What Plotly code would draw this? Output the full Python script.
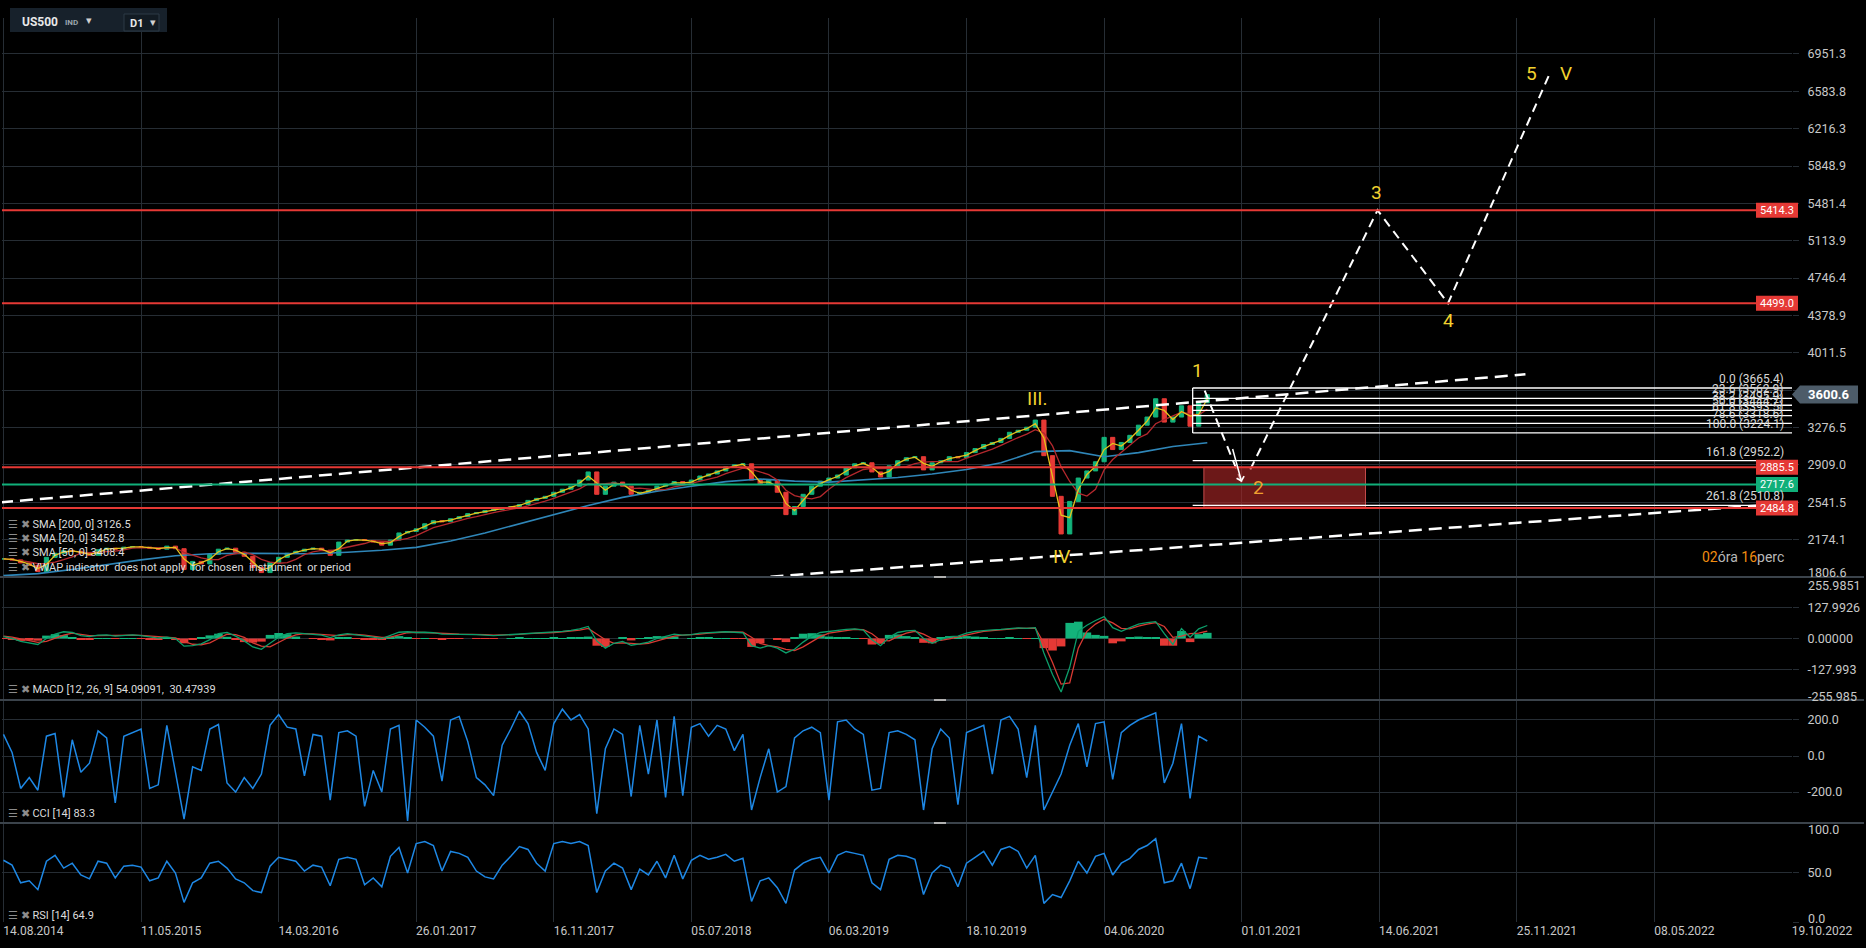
import numpy as np
import pandas as pd
import plotly.graph_objects as go
from plotly.subplots import make_subplots

# ---- values (one sample ~ every 11 daily bars) ----
date_labels = ["14.08.2014", "11.05.2015", "14.03.2016", "26.01.2017", "16.11.2017",
               "05.07.2018", "06.03.2019", "18.10.2019", "04.06.2020", "01.01.2021",
               "14.06.2021", "25.11.2021", "08.05.2022", "19.10.2022"]
bars_per_label = 16

close = [1985, 1975, 1945, 1920, 1860, 2000, 2040, 2065, 2060, 2040,
         2020, 2075, 2090, 2080, 2100, 2105, 2100, 2090, 2080, 2110,
         2085, 1880, 1960, 1935, 2030, 2080, 2090, 2050, 2010, 1900,
         1850, 1950, 2000, 2040, 2060, 2080, 2090, 2070, 2020, 2150,
         2170, 2175, 2165, 2150, 2120, 2170, 2240, 2255, 2280, 2330,
         2360, 2350, 2380, 2400, 2430, 2440, 2460, 2470, 2480, 2500,
         2520, 2560, 2580, 2600, 2640, 2670, 2700, 2760, 2840, 2620,
         2700, 2740, 2700, 2620, 2640, 2660, 2700, 2720, 2745, 2720,
         2760, 2800, 2820, 2850, 2890, 2910, 2920, 2760, 2720, 2760,
         2640, 2420, 2500, 2620, 2700, 2750, 2780, 2810, 2880, 2920,
         2930, 2840, 2790, 2900, 2950, 2980, 2990, 2860, 2930, 2950,
         2990, 2980, 3030, 3070, 3110, 3130, 3170, 3230, 3250, 3280,
         3350, 3000, 2600, 2230, 2550, 2780, 2850, 2940, 3180, 3060,
         3130, 3200, 3300, 3380, 3560, 3330, 3380, 3490, 3290, 3520,
         3600.6]

sma200_step = 4
sma200 = [1820, 1840, 1880, 1930, 1975, 2015, 2035, 2040, 2040, 2035,
          2050, 2070, 2098, 2160, 2240, 2330, 2420, 2510, 2590, 2650,
          2700, 2745, 2770, 2750, 2740, 2760, 2785, 2820, 2864, 2930,
          3040, 3050, 2990, 3030, 3090, 3126.5]

macd = [8, 0, -12, -18, -25, 0, 18, 28, 25, 12,
        8, 14, 15, 10, 14, 15, 12, 6, 2, 6,
        0, -32, -30, -22, -5, 20, 25, 10, -10, -35,
        -45, -20, 5, 20, 23, 20, 18, 14, 4, 15,
        20, 16, 10, 6, 0, 14, 26, 28, 25, 26,
        24, 18, 18, 17, 18, 16, 14, 12, 14, 16,
        20, 22, 22, 24, 28, 30, 34, 40, 50, -10,
        -40, -20, -12, -28, -22, -15, 0, 8, 18, 14,
        16, 22, 25, 27, 28, 26, 24, -30, -40, -30,
        -40, -60, -45, -15, 10, 25, 30, 33, 38, 40,
        35, -5, -30, 5, 25, 32, 34, 0, -20, -5,
        8, 10, 22, 30, 34, 36, 38, 42, 44, 42,
        45, -60, -150, -223, -120, 30, 55, 75, 91, 45,
        30, 45, 60, 66, 70, 20, -25, 41, 5, 40,
        54.09]
signal = [10, 6, -2, -10, -16, -12, 0, 14, 22, 18,
          12, 12, 13, 12, 12, 14, 13, 10, 6, 5,
          3, -12, -24, -26, -18, 0, 18, 16, 5, -18,
          -32, -35, -18, 2, 15, 20, 19, 17, 12, 12,
          16, 17, 14, 10, 5, 6, 16, 24, 26, 25,
          25, 22, 20, 18, 18, 17, 16, 14, 14, 15,
          17, 20, 21, 22, 25, 28, 31, 35, 42, 20,
          -5, -20, -18, -20, -23, -20, -10, 0, 10, 14,
          15, 18, 22, 25, 27, 27, 26, 5, -20, -30,
          -35, -45, -50, -35, -12, 8, 22, 28, 34, 38,
          37, 20, -8, -10, 8, 22, 30, 18, 0, -8,
          -2, 5, 12, 22, 30, 34, 36, 39, 42, 43,
          43, -20, -100, -190, -185, -40, 30, 60, 80, 65,
          42, 40, 52, 60, 66, 50, 5, 10, 20, 22,
          30.48]

cci = [120, 20, -180, -120, -190, 110, 125, -230, 90, -90,
       -40, 140, 100, -260, 110, 130, 150, -180, -160, 170,
       -80, -350, -60, -80, 150, 175, -150, -200, -120, -180,
       -100, 170, 230, 160, 150, -110, 120, 110, -245, 130,
       140, 110, -280, -80, -200, 150, 170, -360, 200, 160,
       110, -140, 200, 220, 80, -120, -160, -220, 60, 150,
       250, 180, 20, -80, 180, 260, 200, 230, 150, -320,
       40, 150, 120, -225, 170, -100, 200, -230, 220, -220,
       160, 180, 110, 170, 150, 30, 120, -300, -120, 40,
       -200, -170, 100, 140, 160, 130, -245, 190, 200, 150,
       120, -190, -180, 130, 140, 120, 90, -300, 40, 150,
       100, -270, 130, 150, 170, -100, 200, 220, 150, -120,
       170, -300, -200, -100, 60, 180, -60, 180, 190, -130,
       130, 170, 200, 220, 240, -150, -40, 180, -235, 110,
       83.3]

rsi = [63, 58, 40, 42, 33, 62, 68, 55, 60, 48,
       44, 62, 60, 45, 57, 58, 56, 42, 45, 62,
       50, 20, 40, 45, 60, 62, 55, 44, 40, 32,
       30, 57, 66, 64, 62, 52, 58, 56, 37, 64,
       66, 64, 38, 45, 36, 67, 76, 50, 80, 82,
       78, 52, 72, 70, 66, 52, 46, 44, 58, 67,
       77, 74, 60, 52, 80, 82, 80, 82, 78, 30,
       52, 60, 55, 33, 54, 48, 62, 45, 68, 44,
       63, 68, 64, 66, 69, 62, 65, 21, 42, 45,
       35, 19, 53, 60, 64, 66, 50, 68, 72, 70,
       68, 40, 33, 64, 68, 67, 64, 28, 50, 58,
       55, 36, 60, 66, 72, 58, 74, 77, 72, 55,
       68, 19, 28, 25, 42, 62, 50, 67, 70, 48,
       60, 65, 74, 78, 85, 40, 42, 60, 34, 66,
       64.9]

# drawings on the price pane (bar index, price)
trend_upper_idx = [-0.4, 177.0]
trend_upper_val = [2541, 3800]
trend_lower_idx = [89.2, 208.0]
trend_lower_val = [1810, 2533]
wave_down_idx = [139.7, 144.0]
wave_down_val = [3640, 2740]
wave_up_idx = [145.0, 159.8, 168.0, 179.7]
wave_up_val = [2864, 5414.3, 4499.0, 6735]

red_levels = [5414.3, 4499.0, 2885.5, 2484.8]
green_levels = [2717.6]
fib_pct = ["0.0", "23.6", "38.2", "50.0", "61.8", "78.6", "100.0", "161.8", "261.8"]
fib_val = [3665.4, 3562.9, 3495.9, 3444.7, 3393.5, 3318.6, 3224.1, 2952.2, 2510.8]
fib_start_idx = 138.3
zone_idx = [139.6, 158.4]
zone_val = [2484.8, 2885.5]
last_price = 3600.6

price_ticks = [2174.1, 2541.5, 2909.0, 3276.5, 3643.9, 4011.5, 4378.9,
               4746.4, 5113.9, 5481.4, 5848.9, 6216.3, 6583.8, 6951.3]
macd_ticks = [127.9926, 0.0, -127.993]
macd_tick_text = ["127.9926", "0.00000", "-127.993"]
cci_ticks = [200.0, 0.0, -200.0]

# ---- page geometry ----
W, H = 1866, 948
ML, MR, MT, MB = 2, 74, 18, 26
PW, PH = W - ML - MR, H - MT - MB


def px_x(x):
    return (x - ML) / PW


def px_y(y):
    return (H - MB - y) / PH


GRID = "#262d34"
TXT = "#c8c8c8"
RED = "#e53935"
GREEN = "#13b37b"
BLUE = "#1e88e5"
YELLOW = "#f2d22e"
FONT = "Roboto"

idx = np.arange(len(close))
open_ = [close[0]] + close[:-1]
high = np.maximum(open_, close)
low = np.minimum(open_, close)
s = pd.Series(close, dtype=float)
sma20 = s.rolling(2, min_periods=1).mean()
sma50 = s.rolling(5, min_periods=1).mean()
sma200_idx = np.arange(0, len(close), sma200_step)
hist = np.array(macd) - np.array(signal)

fig = make_subplots(rows=4, cols=1, shared_xaxes=True, vertical_spacing=0)

fig.add_trace(go.Scatter(x=sma200_idx, y=sma200, mode="lines",
                         line=dict(color="#2f86b8", width=1.6)), row=1, col=1)
fig.add_trace(go.Candlestick(x=idx, open=open_, high=high, low=low, close=close,
                             increasing=dict(line=dict(color=GREEN, width=1), fillcolor=GREEN),
                             decreasing=dict(line=dict(color=RED, width=1), fillcolor=RED),
                             whiskerwidth=0), row=1, col=1)
fig.add_trace(go.Scatter(x=idx, y=sma50, mode="lines",
                         line=dict(color="#b3282d", width=1.3)), row=1, col=1)
fig.add_trace(go.Scatter(x=idx, y=sma20, mode="lines",
                         line=dict(color="#e6c21c", width=1.3)), row=1, col=1)

for xs, ys in [(trend_upper_idx, trend_upper_val), (trend_lower_idx, trend_lower_val)]:
    fig.add_trace(go.Scatter(x=xs, y=ys, mode="lines",
                             line=dict(color="white", width=2.5, dash="13px,7px")), row=1, col=1)
for xs, ys in [(wave_down_idx, wave_down_val), (wave_up_idx, wave_up_val)]:
    fig.add_trace(go.Scatter(x=xs, y=ys, mode="lines",
                             line=dict(color="white", width=2, dash="9px,6px")), row=1, col=1)

# MACD pane
fig.add_trace(go.Bar(x=idx, y=hist, width=1.0,
                     marker=dict(color=[GREEN if v >= 0 else RED for v in hist], line_width=0)),
              row=2, col=1)
fig.add_trace(go.Scatter(x=idx, y=signal, mode="lines", line=dict(color="#d93a33", width=1.3)), row=2, col=1)
fig.add_trace(go.Scatter(x=idx, y=macd, mode="lines", line=dict(color="#0c9e6a", width=1.3)), row=2, col=1)

fig.add_trace(go.Scatter(x=idx, y=cci, mode="lines", line=dict(color=BLUE, width=1.5)), row=3, col=1)
fig.add_trace(go.Scatter(x=idx, y=rsi, mode="lines", line=dict(color=BLUE, width=1.5)), row=4, col=1)

grid_idx = [k * bars_per_label for k in range(len(date_labels))]
fig.update_xaxes(range=[-0.17, grid_idx[-1]], tickvals=grid_idx, showgrid=True, gridcolor=GRID,
                 gridwidth=1, zeroline=False, showticklabels=False, showline=False,
                 rangeslider_visible=False)
fig.update_xaxes(row=4, col=1, showticklabels=True, ticktext=date_labels, ticklabelshift=30,
                 tickfont=dict(size=12, color=TXT, family=FONT))

yaxis_common = dict(side="right", showgrid=True, gridcolor=GRID, zeroline=False, ticks="outside",
                    ticklen=6, tickcolor=GRID, tickfont=dict(size=12.5, color=TXT, family=FONT),
                    ticklabelstandoff=6, fixedrange=True)
fig.update_layout(
    yaxis=dict(domain=[px_y(577), 1], range=[1806.6, 7305], tickvals=price_ticks,
               ticktext=[f"{v:.1f}" for v in price_ticks], **yaxis_common),
    yaxis2=dict(domain=[px_y(700), px_y(577)], range=[-256, 256], tickvals=macd_ticks,
                ticktext=macd_tick_text, **yaxis_common),
    yaxis3=dict(domain=[px_y(823), px_y(700)], range=[-372, 311], tickvals=cci_ticks,
                ticktext=[f"{v:.1f}" for v in cci_ticks], **yaxis_common),
    yaxis4=dict(domain=[0, px_y(823)], range=[0, 101], tickvals=[0, 50],
                ticktext=["", "50.0"], **yaxis_common),
)

shapes = []
# target zone
shapes.append(dict(type="rect", xref="x", yref="y", x0=zone_idx[0], x1=zone_idx[1],
                   y0=zone_val[0], y1=zone_val[1], fillcolor="rgba(175,38,38,0.62)",
                   line=dict(color="rgba(230,90,90,0.8)", width=1), layer="above"))
# fibonacci levels
for v in fib_val:
    shapes.append(dict(type="line", xref="x", yref="y", x0=fib_start_idx, x1=grid_idx[-1],
                       y0=v, y1=v, line=dict(color="white", width=1.3), layer="above"))
shapes.append(dict(type="line", xref="x", yref="y", x0=fib_start_idx, x1=fib_start_idx,
                   y0=fib_val[6], y1=fib_val[0], line=dict(color="white", width=1.3), layer="above"))
# horizontal levels
for v in red_levels:
    shapes.append(dict(type="line", xref="paper", yref="y", x0=0, x1=1, y0=v, y1=v,
                       line=dict(color=RED, width=2), layer="above"))
for v in green_levels:
    shapes.append(dict(type="line", xref="paper", yref="y", x0=0, x1=1, y0=v, y1=v,
                       line=dict(color="#10b07a", width=2), layer="above"))

annotations = []


def note(x, y, text, size=11, color=TXT, anchor="left", xref="paper", yref="paper", bold=False,
         yanchor="middle"):
    if bold:
        text = f"<b>{text}</b>"
    annotations.append(dict(x=x, y=y, xref=xref, yref=yref, text=text, showarrow=False,
                            xanchor=anchor, yanchor=yanchor,
                            font=dict(size=size, color=color, family=FONT)))


# level tags on the right edge
pp = 9.836  # price units per pixel in the price pane
for v, col in [(v, RED) for v in red_levels] + [(v, "#10b07a") for v in green_levels]:
    shapes.append(dict(type="rect", xref="paper", yref="y", x0=px_x(1756), x1=px_x(1798),
                       y0=v - 7.5 * pp, y1=v + 7.5 * pp, fillcolor=col, line_width=0, layer="above"))
    note(px_x(1777), v, f"{v:.1f}", size=11, color="white", anchor="center", yref="y")

# last price tag
tip, bl, br = px_x(1792), px_x(1800), px_x(1858)
hh = 9 * pp
shapes.append(dict(type="path", xref="paper", yref="y", fillcolor="#4d5c69", line_width=0, layer="above",
                   path=f"M {tip},{last_price} L {bl},{last_price + hh} L {br},{last_price + hh} "
                        f"L {br},{last_price - hh} L {bl},{last_price - hh} Z"))
note(px_x(1829), last_price, f"{last_price:.1f}", size=13, color="white", anchor="center",
     yref="y", bold=True)

# fibonacci labels
for p, v in zip(fib_pct, fib_val):
    note(207.3, v, f"{p} ({v})", size=12, color="#d8d8d8", anchor="right", xref="x", yref="y",
         yanchor="bottom")

# wave labels
wave_labels = [("III.", 120.3, 3561, YELLOW), ("IV.", 123.2, 2009, YELLOW), ("1", 138.9, 3837, YELLOW),
               ("2", 146.0, 2687, "#f0a030"), ("3", 159.7, 5586, YELLOW), ("4", 168.0, 4328, YELLOW),
               ("5", 177.7, 6755, YELLOW), ("V", 181.7, 6755, YELLOW)]
for t, x, y, c in wave_labels:
    note(x, y, t, size=19, color=c, anchor="center", xref="x", yref="y")

annotations.append(dict(x=wave_down_idx[1], y=wave_down_val[1], ax=wave_down_idx[0] + 3.2,
                        ay=wave_down_val[1] + 340, xref="x", yref="y", axref="x", ayref="y",
                        text="", showarrow=True, arrowhead=4, arrowsize=1, arrowwidth=1.5,
                        arrowcolor="white"))

# edge tick labels
note(px_x(1806), px_y(573), "1806.6", size=12.5)
note(px_x(1806), px_y(585), "255.9851", size=12.5)
note(px_x(1806), px_y(696), "-255.985", size=12.5)
note(px_x(1806), px_y(829), "100.0", size=12.5)
note(px_x(1806), px_y(918), "0.0", size=12.5)

# countdown
note(px_x(1786), px_y(557), "<span style='color:#f08c10'>02</span>óra "
                            "<span style='color:#f08c10'>16</span>perc", size=14, color="#b8b8b8",
     anchor="right")

# indicator legends
icon = "<span style='color:#8c8c8c'>☰ ✖</span> "
for y, t in [(524, "SMA [200, 0] 3126.5"), (538, "SMA [20, 0] 3452.8"), (552, "SMA [50, 0] 3408.4"),
             (567, "VWAP indicator  does not apply  for chosen  instrument  or period"),
             (689, "MACD [12, 26, 9] 54.09091,  30.47939"), (813, "CCI [14] 83.3"),
             (915, "RSI [14] 64.9")]:
    note(px_x(6), px_y(y), icon + t, size=11, color="#dcdcdc")

# pane separators and handles
for y in [577, 700, 823]:
    shapes.append(dict(type="line", xref="paper", yref="paper", x0=px_x(0), x1=px_x(1864),
                       y0=px_y(y), y1=px_y(y), line=dict(color="#3b434b", width=2), layer="above"))
    shapes.append(dict(type="line", xref="paper", yref="paper", x0=px_x(934), x1=px_x(946),
                       y0=px_y(y), y1=px_y(y), line=dict(color="#b0b0b0", width=2), layer="above"))

# instrument selector
shapes.append(dict(type="rect", xref="paper", yref="paper", x0=px_x(10), x1=px_x(167),
                   y0=px_y(32), y1=px_y(8), fillcolor="#17212b", line_width=0, layer="above"))
shapes.append(dict(type="rect", xref="paper", yref="paper", x0=px_x(124), x1=px_x(159),
                   y0=px_y(31), y1=px_y(14), fillcolor="#121b23",
                   line=dict(color="#2c3a46", width=1), layer="above"))
note(px_x(20), px_y(22), "US500", size=12, color="#e8e8e8", bold=True)
note(px_x(63), px_y(22), "IND", size=8, color="#9aa4ad", bold=True)
note(px_x(84), px_y(21), "▾", size=11, color="#d0d0d0")
note(px_x(128), px_y(23), "D1", size=11, color="#e8e8e8", bold=True)
note(px_x(148), px_y(22), "▾", size=11, color="#d0d0d0")

fig.update_layout(
    width=W, height=H, margin=dict(l=ML, r=MR, t=MT, b=MB),
    paper_bgcolor="black", plot_bgcolor="black", showlegend=False,
    font=dict(family=FONT, color=TXT), shapes=shapes, annotations=annotations,
    hovermode=False,
)

fig.write_html("out.html", config={"displayModeBar": False},
               post_script="document.body.style.margin='0';document.body.style.overflow='hidden';"
                           "document.body.style.background='black';")
